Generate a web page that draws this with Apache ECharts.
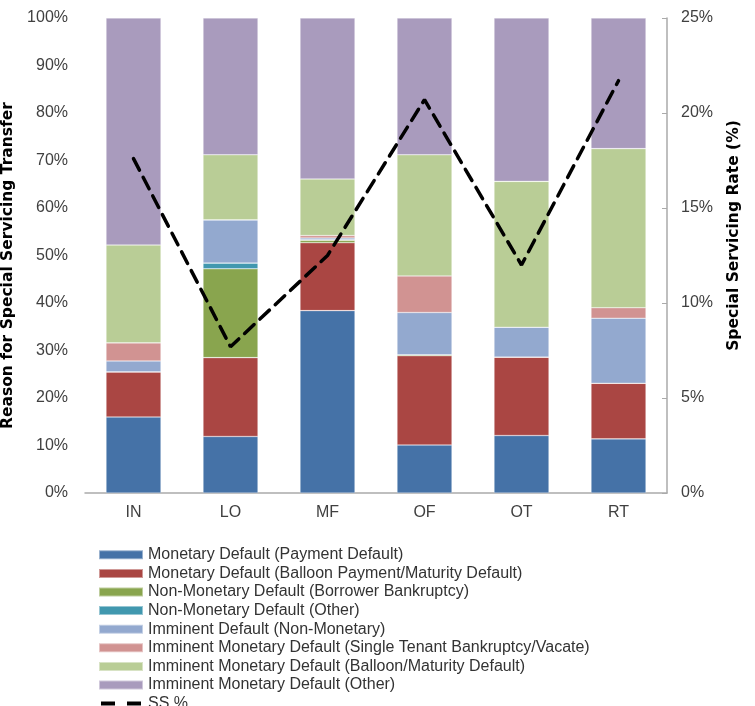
<!DOCTYPE html>
<html>
<head>
<meta charset="utf-8">
<script src="https://cdn.jsdelivr.net/npm/echarts@6/dist/echarts.min.js"></script>
<style>html,body{margin:0;padding:0;background:#fff;}#c{width:755px;height:706px;}</style>
</head>
<body>
<div id="c"></div>
<script>
const categories = ['IN', 'LO', 'MF', 'OF', 'OT', 'RT'];
const seriesNames = [
  'Monetary Default (Payment Default)',
  'Monetary Default (Balloon Payment/Maturity Default)',
  'Non-Monetary Default (Borrower Bankruptcy)',
  'Non-Monetary Default (Other)',
  'Imminent Default (Non-Monetary)',
  'Imminent Monetary Default (Single Tenant Bankruptcy/Vacate)',
  'Imminent Monetary Default (Balloon/Maturity Default)',
  'Imminent Monetary Default (Other)'
];
const paymentDefault   = [16.0, 11.9, 38.4, 10.1, 12.1, 11.4];
const balloonDefault   = [9.5, 16.6, 14.3, 18.8, 16.5, 11.7];
const borrowerBankr    = [0, 18.7, 0.5, 0.2, 0, 0];
const nonMonOther      = [0, 1.2, 0.1, 0, 0, 0];
const imminentNonMon   = [2.3, 9.1, 0.4, 8.9, 6.3, 13.7];
const singleTenant     = [3.8, 0, 0.5, 7.7, 0, 2.2];
const imminentBalloon  = [20.6, 13.7, 11.9, 25.5, 30.7, 33.5];
const imminentOther    = [47.8, 28.8, 33.9, 28.8, 34.4, 27.5];
const ssRate           = [17.6, 7.7, 12.5, 20.7, 12.0, 21.7];
const leftTicks = [0, 10, 20, 30, 40, 50, 60, 70, 80, 90, 100];
const rightTicks = [0, 5, 10, 15, 20, 25];

const barData = [paymentDefault, balloonDefault, borrowerBankr, nonMonOther, imminentNonMon, singleTenant, imminentBalloon, imminentOther];
const colors = ['#4572A7', '#AA4643', '#89A54E', '#4198AF', '#93A9CF', '#D19392', '#B9CD96', '#A99BBD'];
const font = 'Liberation Sans, Arial, sans-serif';
const boldFont = 'DejaVu Sans, Liberation Sans, sans-serif';

const series = barData.map((d, i) => ({
  name: seriesNames[i],
  type: 'bar',
  stack: 'total',
  barWidth: 55,
  data: d,
  itemStyle: { color: colors[i], borderColor: 'rgba(255,255,255,0.45)', borderWidth: 0.6 },
  emphasis: { disabled: true }
}));
series.push({
  name: 'SS %',
  type: 'line',
  yAxisIndex: 1,
  data: ssRate,
  symbol: 'none',
  lineStyle: { color: '#000', width: 3.5, type: [13, 8], cap: 'round' },
  itemStyle: { color: '#000' },
  z: 10
});

const legendData = seriesNames.map(n => ({ name: n, icon: 'rect' })).concat([{
  name: 'SS %',
  icon: 'path://M0,0 M0,9 M0,2.5h14v4h-14z M26,2.5h14v4h-14z',
  itemStyle: { color: '#000', borderWidth: 0 }
}]);

const chart = echarts.init(document.getElementById('c'), null, { renderer: 'canvas' });
chart.setOption({
  animation: false,
  textStyle: { fontFamily: font },
  grid: { left: 85, right: 88, top: 18, bottom: 213, containLabel: false, outerBoundsMode: 'none' },
  legend: {
    orient: 'vertical',
    left: 98,
    top: 545.5,
    height: 400,
    padding: 0,
    itemWidth: 44,
    itemHeight: 9,
    itemGap: 0,
    itemTextGap: 4,
    symbolKeepAspect: true,
    textStyle: { fontSize: 16, lineHeight: 18.6, color: '#333', fontFamily: font },
    data: legendData
  },
  xAxis: {
    type: 'category',
    data: categories,
    axisLine: { lineStyle: { color: '#aaa', width: 1.5 } },
    axisTick: { show: false },
    axisLabel: { fontSize: 16, color: '#404040', margin: 12 }
  },
  yAxis: [
    {
      type: 'value', min: leftTicks[0], max: leftTicks[leftTicks.length - 1], interval: 10,
      name: 'Reason for Special Servicing Transfer',
      nameLocation: 'middle', nameGap: 57, nameRotate: 90,
      nameTextStyle: { fontSize: 15.5, fontWeight: 'bold', color: '#000', fontFamily: boldFont, padding: [0, 20, 0, 0] },
      axisLine: { show: false }, axisTick: { show: false }, splitLine: { show: false },
      axisLabel: { formatter: '{value}%', fontSize: 16, color: '#404040', margin: 17 }
    },
    {
      type: 'value', min: rightTicks[0], max: rightTicks[rightTicks.length - 1], interval: 5,
      position: 'right',
      name: 'Special Servicing Rate (%)',
      nameLocation: 'middle', nameGap: 58.5, nameRotate: 90,
      nameTextStyle: { fontSize: 15.5, fontWeight: 'bold', color: '#000', fontFamily: boldFont, padding: [0, 0, 0, 40] },
      axisLine: { show: true, lineStyle: { color: '#aaa', width: 1.5 } },
      axisTick: { show: true, inside: true, length: 5, lineStyle: { color: '#aaa' } },
      splitLine: { show: false },
      axisLabel: { formatter: '{value}%', fontSize: 16, color: '#404040', margin: 14 }
    }
  ],
  series: series
});
</script>
</body>
</html>
